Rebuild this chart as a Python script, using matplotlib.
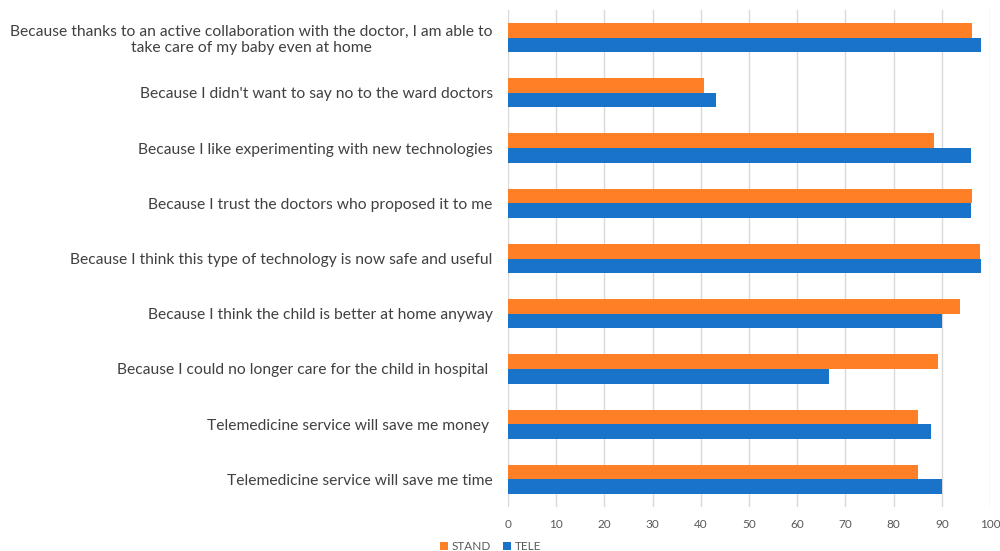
import numpy as np
import matplotlib.pyplot as plt

plt.rcParams['font.family'] = ['Lato', 'DejaVu Sans']

# Data #

categories = [
    "Because thanks to an active collaboration with the doctor, I am able to\ntake care of my baby even at home",
    "Because I didn't want to say no to the ward doctors",
    "Because I like experimenting with new technologies",
    "Because I trust the doctors who proposed it to me",
    "Because I think this type of technology is now safe and useful",
    "Because I think the child is better at home anyway",
    "Because I could no longer care for the child in hospital ",
    "Telemedicine service will save me money ",
    "Telemedicine service will save me time",
]
stand = [96.3, 40.7, 88.4, 96.3, 97.9, 93.8, 89.3, 85.1, 85.1]
tele = [98.1, 43.1, 96.0, 96.0, 98.1, 90.0, 66.7, 87.8, 90.0]
x_ticks = list(range(0, 101, 10))

ORANGE = "#FF7F27"
BLUE = "#1873C9"
GREY = "#595959"


def main():
    fig = plt.figure(figsize=(10, 5.51), dpi=100)
    ax = fig.add_axes([0.508, 1 - 507 / 551, 0.482, 497 / 551])

    y = np.arange(len(categories))
    h = 0.265
    ax.barh(y - h / 2, stand, height=h, color=ORANGE, label="STAND", zorder=3)
    ax.barh(y + h / 2, tele, height=h, color=BLUE, label="TELE", zorder=3)

    ax.set_ylim(len(categories) - 0.5, -0.5)
    ax.set_xlim(0, 100)
    ax.set_xticks(x_ticks)
    ax.set_yticks(y)
    ax.set_yticklabels(categories, fontsize=11.25, color="#404040",
                       multialignment="center")
    ax.tick_params(axis="y", length=0, pad=11)
    ax.tick_params(axis="x", length=0, labelsize=8.5, labelcolor=GREY, pad=9)

    ax.grid(axis="x", color="#D9D9D9", linewidth=1, zorder=0)
    for s in ax.spines.values():
        s.set_visible(False)

    leg = fig.legend(loc="lower left", bbox_to_anchor=(0.429, -0.022), ncol=2,
                     frameon=False, fontsize=8.5, handlelength=0.7,
                     handleheight=0.7, handletextpad=0.3, columnspacing=1.0)
    for t in leg.get_texts():
        t.set_color(GREY)

    fig.savefig("out.png", dpi=100)


if __name__ == "__main__":
    main()
